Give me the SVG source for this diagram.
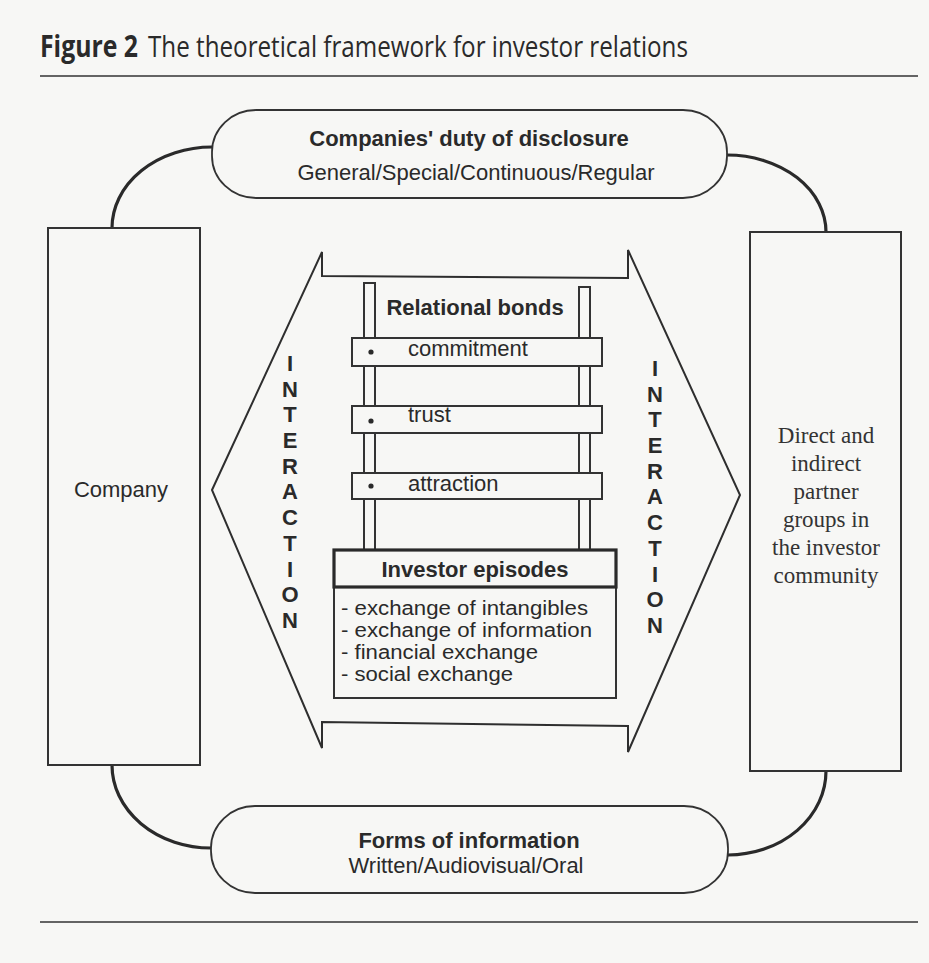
<svg xmlns="http://www.w3.org/2000/svg" width="929" height="963" viewBox="0 0 929 963">
  <defs>
    <style>
      .bg { fill: #f7f7f5; }
      .line { fill: none; stroke: #2e2e2e; stroke-width: 2; }
      .curve { fill: none; stroke: #2a2a2a; stroke-width: 3.2; }
      .box { fill: #f7f7f5; stroke: #333; stroke-width: 2; }
      .pill { fill: #f7f7f5; stroke: #333; stroke-width: 1.8; }
      .sans { font-family: "Liberation Sans", Arial, sans-serif; fill: #2a2a2a; font-size: 22px; }
      .list { font-family: "Liberation Sans", Arial, sans-serif; fill: #2a2a2a; font-size: 20px; }
      .bold { font-weight: bold; }
      .serif { font-family: "Liberation Serif", "Times New Roman", serif; fill: #333; font-size: 23px; text-anchor: middle; }
      .title { font-family: "Open Sans", "Noto Sans", sans-serif; fill: #2a2a2a; font-size: 30px; }
      .mid { text-anchor: middle; }
      .letter { font-family: "Liberation Sans", Arial, sans-serif; font-weight: bold; font-size: 22px; fill: #2a2a2a; text-anchor: middle; }
    </style>
  </defs>
  <rect class="bg" x="0" y="0" width="929" height="963"/>

  <g id="title">
    <text class="title" x="40" y="57" font-weight="bold" textLength="98" lengthAdjust="spacingAndGlyphs">Figure 2</text>
    <text class="title" x="148" y="57" textLength="540" lengthAdjust="spacingAndGlyphs">The theoretical framework for investor relations</text>
    <line x1="40" y1="76" x2="918" y2="76" stroke="#333" stroke-width="1.6"/>
    <line x1="40" y1="922" x2="918" y2="922" stroke="#333" stroke-width="1.6"/>
  </g>

  <g id="connectors">
    <path class="curve" d="M112,228 A100,81 0 0 1 212,147"/>
    <path class="curve" d="M727,155 A99,77 0 0 1 826,232"/>
    <path class="curve" d="M112,765 A99,83 0 0 0 211,848"/>
    <path class="curve" d="M826,771 A98,84 0 0 1 728,855"/>
  </g>

  <g id="duty">
    <rect class="pill" x="212" y="110" width="515" height="88" rx="44" ry="42"/>
    <text class="sans bold mid" x="469" y="146">Companies' duty of disclosure</text>
    <text class="sans mid" x="476" y="180">General/Special/Continuous/Regular</text>
  </g>

  <g id="company">
    <rect class="box" x="48" y="228" width="152" height="537"/>
    <text class="sans mid" x="121" y="497">Company</text>
  </g>

  <g id="partners">
    <rect class="box" x="750" y="232" width="151" height="539"/>
    <text class="serif" x="826" y="443">Direct and</text>
    <text class="serif" x="826" y="471">indirect</text>
    <text class="serif" x="826" y="499">partner</text>
    <text class="serif" x="826" y="527">groups in</text>
    <text class="serif" x="826" y="555">the investor</text>
    <text class="serif" x="826" y="583">community</text>
  </g>

  <g id="forms">
    <rect class="pill" x="211" y="806" width="517" height="87" rx="44" ry="42"/>
    <text class="sans bold mid" x="469" y="848">Forms of information</text>
    <text class="sans mid" x="466" y="873" textLength="235" lengthAdjust="spacingAndGlyphs">Written/Audiovisual/Oral</text>
  </g>

  <g id="interaction">
    <path class="line" d="M212,490 L322,252 L322,276 L628,278 L628,250 L740,495 L628,752 L628,726 L322,722 L322,748 Z"/>
    <g id="interaction-left">
      <text class="letter" x="290" y="371">I</text>
      <text class="letter" x="290" y="397">N</text>
      <text class="letter" x="290" y="422">T</text>
      <text class="letter" x="290" y="448">E</text>
      <text class="letter" x="290" y="474">R</text>
      <text class="letter" x="290" y="499">A</text>
      <text class="letter" x="290" y="525">C</text>
      <text class="letter" x="290" y="551">T</text>
      <text class="letter" x="290" y="577">I</text>
      <text class="letter" x="290" y="602">O</text>
      <text class="letter" x="290" y="628">N</text>
    </g>
    <g id="interaction-right">
      <text class="letter" x="655" y="376">I</text>
      <text class="letter" x="655" y="402">N</text>
      <text class="letter" x="655" y="427">T</text>
      <text class="letter" x="655" y="453">E</text>
      <text class="letter" x="655" y="479">R</text>
      <text class="letter" x="655" y="504">A</text>
      <text class="letter" x="655" y="530">C</text>
      <text class="letter" x="655" y="556">T</text>
      <text class="letter" x="655" y="582">I</text>
      <text class="letter" x="655" y="607">O</text>
      <text class="letter" x="655" y="633">N</text>
    </g>
  </g>

  <g id="relational-bonds">
    <rect class="box" x="364" y="283" width="11" height="267" stroke-width="1.6"/>
    <rect class="box" x="579" y="287" width="11" height="263" stroke-width="1.6"/>
    <text class="sans bold mid" x="475" y="315" font-size="21">Relational bonds</text>
    <g id="commitment">
      <rect class="box" x="352" y="338" width="250" height="28" stroke-width="1.6"/>
      <circle cx="371" cy="352" r="2.6" fill="#2a2a2a"/>
      <text class="sans" x="408" y="356">commitment</text>
    </g>
    <g id="trust">
      <rect class="box" x="352" y="406" width="250" height="27" stroke-width="1.6"/>
      <circle cx="371" cy="421" r="2.6" fill="#2a2a2a"/>
      <text class="sans" x="408" y="422">trust</text>
    </g>
    <g id="attraction">
      <rect class="box" x="352" y="473" width="250" height="26" stroke-width="1.6"/>
      <circle cx="371" cy="486" r="2.6" fill="#2a2a2a"/>
      <text class="sans" x="408" y="491">attraction</text>
    </g>
  </g>

  <g id="investor-episodes">
    <rect class="box" x="334" y="550" width="282" height="148"/>
    <rect x="334" y="550" width="282" height="37" fill="none" stroke="#2a2a2a" stroke-width="3.2"/>
    <text class="sans bold mid" x="475" y="577">Investor episodes</text>
    <text class="list" x="341" y="615" textLength="247" lengthAdjust="spacingAndGlyphs">- exchange of intangibles</text>
    <text class="list" x="341" y="637" textLength="251" lengthAdjust="spacingAndGlyphs">- exchange of information</text>
    <text class="list" x="341" y="659" textLength="197" lengthAdjust="spacingAndGlyphs">- financial exchange</text>
    <text class="list" x="341" y="681" textLength="172" lengthAdjust="spacingAndGlyphs">- social exchange</text>
  </g>
</svg>
